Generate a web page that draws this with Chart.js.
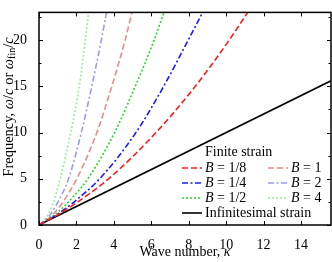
<!DOCTYPE html>
<html>
<head>
<meta charset="utf-8">
<script src="https://cdn.jsdelivr.net/npm/chart.js@4.4.1/dist/chart.umd.min.js"></script>
<style>
  html, body { margin: 0; padding: 0; background: #fff; }
</style>
</head>
<body>
<canvas id="dispersionChart" width="332" height="262"></canvas>
<script>
const kappaTicks = [0, 2, 4, 6, 8, 10, 12, 14];
const omegaTicks = [0, 5, 10, 15, 20];
const omegaMinorTicks = [2.5, 7.5, 12.5, 17.5, 22.5];

// values (kappa, omega/c)
const b8Kappa = [0, 1, 2, 3.72, 6.25, 8.35, 10.16, 11.6];
const b8Omega = [0, 1.1, 2.4, 5, 10, 15, 20, 24.4];
const b4Kappa = [0, 1, 2, 3.24, 5.18, 6.66, 7.97, 9.0];
const b4Omega = [0, 1.18, 2.7, 5, 10, 15, 20, 24];
const b2Kappa = [0, 1, 1.8, 2.61, 4.04, 5.14, 6.15, 6.9];
const b2Omega = [0, 1.37, 3, 5, 10, 15, 20, 24.3];
const b1Kappa = [0, 0.6, 1.2, 2.02, 3.09, 3.89, 4.6, 5.1];
const b1Omega = [0, 0.86, 2.25, 5, 10, 15, 20, 24.1];
const bTwoKappa = [0, 0.5, 1, 1.58, 2.26, 2.82, 3.33, 3.7];
const bTwoOmega = [0, 0.86, 2.45, 5, 10, 15, 20, 24];
const bFourKappa = [0, 0.4, 0.75, 1.13, 1.7, 2.15, 2.47, 2.75];
const bFourOmega = [0, 0.86, 2.35, 5, 10, 15, 20, 24.6];
const linKappa = [0, 15.6];
const linOmega = [0, 15.6];

const serif = '"Liberation Serif", "DejaVu Serif", serif';

const series = [
  { label: '1/8', k: b8Kappa, w: b8Omega, color: '#ff1a1a', dash: [6, 3] },
  { label: '1/4', k: b4Kappa, w: b4Omega, color: '#1a1aff', dash: [6, 2.5, 2, 2.5] },
  { label: '1/2', k: b2Kappa, w: b2Omega, color: '#22dd22', dash: [2, 2] },
  { label: '1', k: b1Kappa, w: b1Omega, color: '#f08888', dash: [6, 3] },
  { label: '2', k: bTwoKappa, w: bTwoOmega, color: '#9a9af5', dash: [6, 2.5, 2, 2.5] },
  { label: '4', k: bFourKappa, w: bFourOmega, color: '#99ee99', dash: [2, 2] }
];

function toPoints(k, w) {
  return k.map((x, i) => ({ x, y: w[i] }));
}

const datasets = series.map(s => ({
  label: 'B = ' + s.label,
  data: toPoints(s.k, s.w),
  borderColor: s.color,
  borderDash: s.dash,
  borderWidth: 1.6,
  pointRadius: 0,
  cubicInterpolationMode: 'monotone',
  fill: false
}));
datasets.push({
  label: 'Infinitesimal strain',
  data: toPoints(linKappa, linOmega),
  borderColor: '#000',
  borderWidth: 1.6,
  pointRadius: 0,
  fill: false
});

// draw a run of text pieces: [text, style, size, dy]
function drawRuns(ctx, runs, x, y, size) {
  let cx = x;
  runs.forEach(r => {
    ctx.font = (r[1] || '') + ' ' + (r[2] || size) + 'px ' + serif;
    ctx.fillText(r[0], cx, y + (r[3] || 0));
    cx += ctx.measureText(r[0]).width;
  });
  return cx - x;
}
function runsWidth(ctx, runs, size) {
  let w = 0;
  runs.forEach(r => {
    ctx.font = (r[1] || '') + ' ' + (r[2] || size) + 'px ' + serif;
    w += ctx.measureText(r[0]).width;
  });
  return w;
}

const framePlugin = {
  id: 'frame',
  afterDraw(chart) {
    const { ctx, chartArea: a, scales } = chart;
    const xs = scales.x, ys = scales.y;
    ctx.save();
    ctx.strokeStyle = '#000';
    ctx.lineWidth = 1.5;
    ctx.strokeRect(a.left, a.top, a.right - a.left, a.bottom - a.top);

    ctx.lineWidth = 1;
    ctx.beginPath();
    kappaTicks.forEach(v => {
      const px = Math.round(xs.getPixelForValue(v)) + 0.5;
      ctx.moveTo(px, a.bottom); ctx.lineTo(px, a.bottom - 4);
      ctx.moveTo(px, a.top); ctx.lineTo(px, a.top + 4);
    });
    omegaTicks.forEach(v => {
      const py = Math.round(ys.getPixelForValue(v)) + 0.5;
      ctx.moveTo(a.left, py); ctx.lineTo(a.left + 4, py);
      ctx.moveTo(a.right, py); ctx.lineTo(a.right - 4, py);
    });
    omegaMinorTicks.forEach(v => {
      const py = Math.round(ys.getPixelForValue(v)) + 0.5;
      ctx.moveTo(a.left, py); ctx.lineTo(a.left + 2.5, py);
      ctx.moveTo(a.right, py); ctx.lineTo(a.right - 2.5, py);
    });
    ctx.stroke();

    ctx.fillStyle = '#000';
    ctx.textBaseline = 'middle';
    ctx.textAlign = 'left';

    // x title
    const xRuns = [['Wave number, '], ['\u03ba', 'italic']];
    drawRuns(ctx, xRuns, (a.left + a.right) / 2 - runsWidth(ctx, xRuns, 14) / 2, 252, 14);

    // y title
    const yRuns = [
      ['Frequency, '], ['\u03c9', 'italic'], ['/'], ['c', 'italic'], [' or '],
      ['\u03c9', 'italic'], ['fin', '', 10, 3], ['/'], ['c', 'italic']
    ];
    ctx.save();
    ctx.translate(9, 107);
    ctx.rotate(-Math.PI / 2);
    drawRuns(ctx, yRuns, -runsWidth(ctx, yRuns, 14.5) / 2, 0, 14.5);
    ctx.restore();

    // legend
    drawRuns(ctx, [['Finite strain']], 205, 152, 14);
    const colX = [182, 268];
    const rowY = [168, 183, 198];
    series.forEach((s, i) => {
      const lx = colX[Math.floor(i / 3)];
      const ly = rowY[i % 3];
      ctx.save();
      ctx.strokeStyle = s.color;
      ctx.lineWidth = 1.6;
      ctx.setLineDash(s.dash);
      ctx.beginPath();
      ctx.moveTo(lx, ly); ctx.lineTo(lx + 20, ly);
      ctx.stroke();
      ctx.restore();
      drawRuns(ctx, [['B', 'italic'], [' = ' + s.label]], lx + 23, ly, 14);
    });
    ctx.save();
    ctx.strokeStyle = '#000';
    ctx.lineWidth = 1.6;
    ctx.beginPath();
    ctx.moveTo(182, 213); ctx.lineTo(202, 213);
    ctx.stroke();
    ctx.restore();
    drawRuns(ctx, [['Infinitesimal strain']], 205, 213, 14);
    ctx.restore();
  }
};

new Chart(document.getElementById('dispersionChart').getContext('2d'), {
  type: 'line',
  data: { datasets },
  options: {
    responsive: false,
    animation: false,
    layout: { padding: { top: 1, right: 1, left: 0, bottom: 0 } },
    plugins: { legend: { display: false }, tooltip: { enabled: false } },
    scales: {
      x: {
        type: 'linear',
        min: 0,
        max: 15.6,
        afterBuildTicks(scale) { scale.ticks = kappaTicks.map(v => ({ value: v })); },
        afterFit(scale) { scale.height = 37; },
        grid: { display: false },
        border: { display: false },
        ticks: { color: '#000', padding: 4, maxRotation: 0, font: { family: serif, size: 14 } }
      },
      y: {
        type: 'linear',
        min: 0,
        max: 23,
        afterBuildTicks(scale) { scale.ticks = omegaTicks.map(v => ({ value: v })); },
        afterFit(scale) { scale.width = 39; },
        grid: { display: false },
        border: { display: false },
        ticks: { color: '#000', padding: 4, font: { family: serif, size: 14 } }
      }
    }
  },
  plugins: [framePlugin]
});
</script>
</body>
</html>
